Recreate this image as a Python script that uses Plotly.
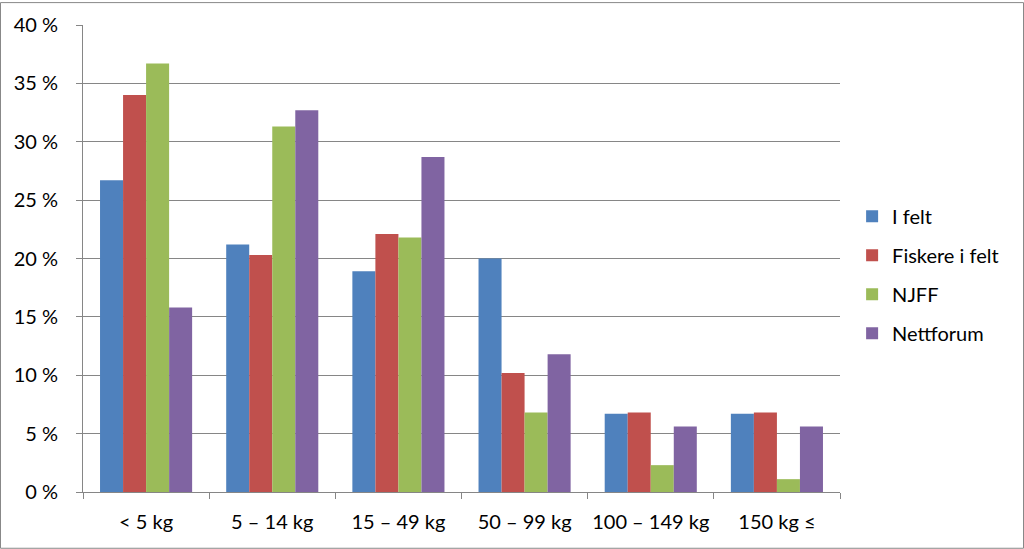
import plotly.graph_objects as go

categories = ["< 5 kg", "5 – 14 kg", "15 – 49 kg", "50 – 99 kg", "100 – 149 kg", "150 kg ≤"]
i_felt = [26.7, 21.2, 18.9, 20.0, 6.7, 6.7]
fiskere_i_felt = [34.0, 20.3, 22.1, 10.2, 6.8, 6.8]
njff = [36.7, 31.3, 21.8, 6.8, 2.3, 1.1]
nettforum = [15.8, 32.7, 28.7, 11.8, 5.6, 5.6]
series_names = ["I felt", "Fiskere i felt", "NJFF", "Nettforum"]
y_tick_vals = [0, 5, 10, 15, 20, 25, 30, 35, 40]
y_tick_text = ["0 %", "5 %", "10 %", "15 %", "20 %", "25 %", "30 %", "35 %", "40 %"]

colors = ["#4F81BD", "#C0504D", "#9BBB59", "#8064A2"]
font_family = "Lato, 'Open Sans', sans-serif"

fig = go.Figure()
for name, vals, col in zip(series_names, [i_felt, fiskere_i_felt, njff, nettforum], colors):
    fig.add_trace(go.Bar(x=categories, y=vals, name=name, legendgroup=name,
                         marker=dict(color=col, line=dict(width=0))))

W, H = 1024, 549
L, R, T, B = 83, 184, 23, 57
pw, ph = W - L - R, H - T - B

fig.update_layout(
    width=W, height=H,
    margin=dict(l=L, r=R, t=T, b=B, pad=0),
    barmode="group",
    bargap=0.27,
    bargroupgap=0,
    plot_bgcolor="white",
    paper_bgcolor="white",
    font=dict(family=font_family, size=20, color="#000000"),
    showlegend=True,
    legend=dict(
        x=1.016, y=0.465, xanchor="left", yanchor="middle",
        font=dict(size=20, family=font_family),
        traceorder="grouped", tracegroupgap=10,
        itemwidth=30,
        bgcolor="rgba(0,0,0,0)",
    ),
    xaxis=dict(
        showgrid=False, showline=True, linecolor="#868686", linewidth=1,
        ticks="outside", tickson="boundaries", ticklen=6, tickcolor="#868686",
        tickfont=dict(size=20), zeroline=False, ticklabelstandoff=12,
    ),
    yaxis=dict(
        range=[0, 40], tickvals=y_tick_vals, ticktext=y_tick_text,
        showgrid=True, gridcolor="#868686", gridwidth=1,
        showline=True, linecolor="#868686", linewidth=1,
        ticks="outside", ticklen=6, tickcolor="#868686",
        tickfont=dict(size=20), zeroline=False, ticklabelstandoff=14,
    ),
    shapes=[dict(
        type="rect", xref="paper", yref="paper",
        x0=(0.5 - L) / pw, x1=(W - 0.5 - L) / pw,
        y0=(H - B - (H - 0.5)) / ph, y1=(H - B - 0.5) / ph,
        line=dict(color="#888888", width=1), layer="above",
    )],
)

fig.write_html("out.html")
